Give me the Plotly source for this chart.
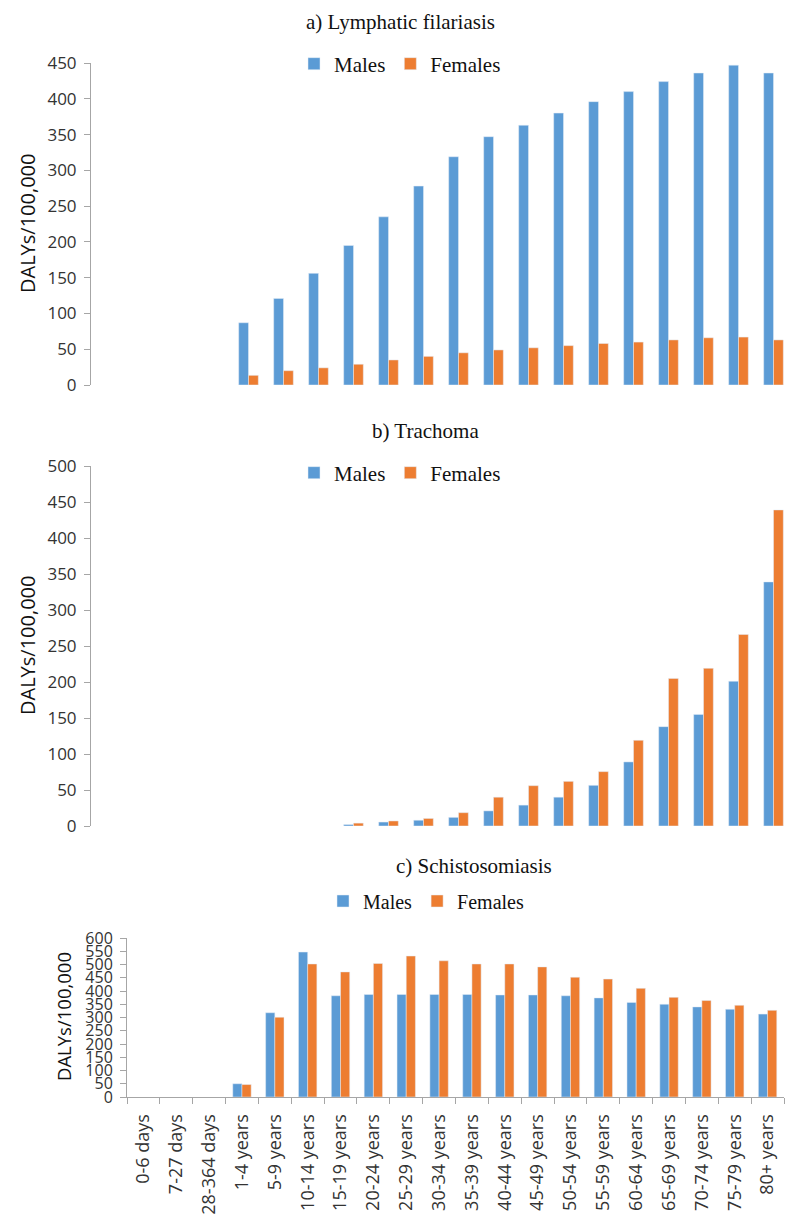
import plotly.graph_objects as go

# page is rendered with the default 8px body margin; compensate for it
OFF = 8
W, H = 800 - OFF, 1223 - OFF

age_groups = ["0-6 days", "7-27 days", "28-364 days", "1-4 years", "5-9 years",
              "10-14 years", "15-19 years", "20-24 years", "25-29 years", "30-34 years",
              "35-39 years", "40-44 years", "45-49 years", "50-54 years", "55-59 years",
              "60-64 years", "65-69 years", "70-74 years", "75-79 years", "80+ years"]

lf_males = [None, None, None, None, 87, 121, 156, 195, 235, 278, 319, 347, 363, 380,
            396, 410, 424, 436, 447, 436]
lf_females = [None, None, None, None, 13.5, 20, 24, 29, 35, 40, 45, 49, 52, 55,
              58, 60, 63, 66, 67, 63]

tr_males = [None, None, None, None, None, None, None, 2, 5.5, 8, 12, 21, 29, 40,
            56.5, 89, 138, 155, 201, 339]
tr_females = [None, None, None, None, None, None, None, 4, 7, 10.5, 18.5, 40, 56, 62,
              75.5, 119, 205, 219, 266, 439]

sc_males = [None, None, None, 50, 318, 547, 382, 387, 387, 387, 387, 385, 385, 382,
            374, 357, 350, 340, 331, 313]
sc_females = [None, None, None, 47, 301, 502, 472, 504, 532, 514, 502, 502, 491, 452,
              445, 410, 376, 364, 346, 327]

panel_titles = ["a) Lymphatic filariasis", "b) Trachoma", "c) Schistosomiasis"]
y_title = "DALYs/100,000"

BLUE = "#5B9BD5"
ORANGE = "#ED7D31"
AXIS_GREY = "#A6A6A6"
SERIF = "Liberation Serif"
SANS = "Open Sans"


def px_y(p):
    return 1 - (p - OFF) / H


def px_x(p):
    return (p - OFF) / W


fig = go.Figure()

panels = [
    (lf_males, lf_females, "x", "y", "legend"),
    (tr_males, tr_females, "x2", "y2", "legend2"),
    (sc_males, sc_females, "x3", "y3", "legend3"),
]
for males, females, xa, ya, lg in panels:
    fig.add_trace(go.Bar(x=age_groups, y=males, name="Males", marker_color=BLUE,
                         xaxis=xa, yaxis=ya, legend=lg))
    fig.add_trace(go.Bar(x=age_groups, y=females, name="Females", marker_color=ORANGE,
                         xaxis=xa, yaxis=ya, legend=lg))

common_y = dict(showgrid=False, zeroline=False, showline=True, linecolor=AXIS_GREY,
                linewidth=1, ticks="outside", ticklen=6, tickcolor=AXIS_GREY,
                ticklabelstandoff=4,
                tickmode="linear", tick0=0, dtick=50, automargin=False)
hidden_x = dict(showgrid=False, zeroline=False, showline=False, showticklabels=False,
                ticks="", range=[-0.5, 19.5], type="category", automargin=False)

fig.update_layout(
    width=W, height=H,
    margin=dict(l=0, r=0, t=0, b=0),
    paper_bgcolor="white", plot_bgcolor="white",
    barmode="group", bargap=0.44, bargroupgap=0,
    showlegend=True,
    xaxis=dict(domain=[px_x(91), px_x(791)], anchor="y", **hidden_x),
    yaxis=dict(domain=[px_y(385), px_y(63)], range=[0, 450], anchor="x",
               tickfont=dict(family=SANS, size=17, color="#333333"), **common_y),
    xaxis2=dict(domain=[px_x(91), px_x(791)], anchor="y2", **hidden_x),
    yaxis2=dict(domain=[px_y(826), px_y(466)], range=[0, 500], anchor="x2",
                tickfont=dict(family=SANS, size=17, color="#333333"), **common_y),
    xaxis3=dict(domain=[px_x(127), px_x(784)], anchor="y3", showgrid=False, zeroline=False,
                showline=True, linecolor=AXIS_GREY, linewidth=1, ticks="outside",
                ticklen=6, tickcolor=AXIS_GREY, tickson="boundaries", tickangle=-90,
                ticklabelstandoff=9,
                tickfont=dict(family=SANS, size=18, color="#333333"),
                range=[-0.5, 19.5], type="category", automargin=False),
    yaxis3=dict(domain=[px_y(1097), px_y(938)], range=[0, 600], anchor="x3",
                tickfont=dict(family=SANS, size=16, color="#333333"), **common_y),
)

leg_common = dict(orientation="h", xanchor="center", yanchor="middle",
                  bgcolor="rgba(0,0,0,0)", itemwidth=30, traceorder="normal",
                  font=dict(family=SERIF, size=21, color="#111111"))
fig.update_layout(
    legend=dict(x=px_x(400), y=px_y(64), **leg_common),
    legend2=dict(x=px_x(400), y=px_y(473), **leg_common),
    legend3=dict(x=px_x(426), y=px_y(901), **dict(leg_common, font=dict(family=SERIF, size=20, color="#111111"))),
)

# Panel titles
for text, xc, yc in [(panel_titles[0], 400, 22), (panel_titles[1], 425, 431),
                     (panel_titles[2], 474, 866)]:
    fig.add_annotation(text=text, x=px_x(xc), y=px_y(yc), xref="paper", yref="paper",
                       xanchor="center", yanchor="middle", showarrow=False,
                       font=dict(family=SERIF, size=21, color="#111111"))

# Y-axis titles
for xc, yc, sz in [(27, 224, 20), (27, 646, 20), (63, 1017, 18.5)]:
    fig.add_annotation(text=y_title, x=px_x(xc), y=px_y(yc), xref="paper", yref="paper",
                       xanchor="center", yanchor="middle", showarrow=False, textangle=-90,
                       font=dict(family=SANS, size=sz, color="#111111"))

fig.write_html("out.html")
